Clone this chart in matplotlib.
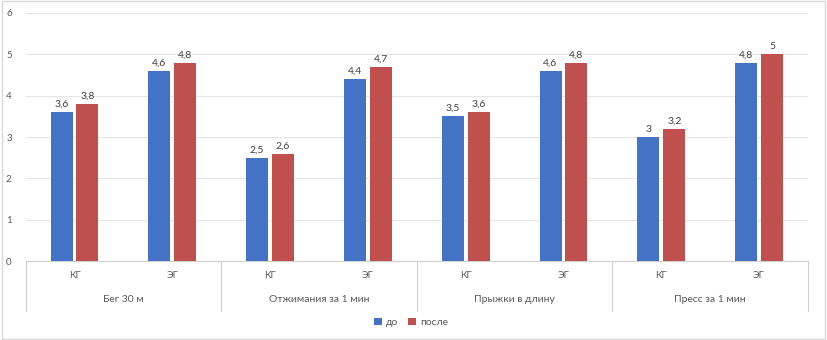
import matplotlib.pyplot as plt
import matplotlib.transforms as mtransforms
import numpy as np

plt.rcParams['font.family'] = ['Lato', 'DejaVu Sans']

tests = ['Бег 30 м', 'Отжимания за 1 мин', 'Прыжки в длину', 'Пресс за 1 мин']
groups = ['КГ', 'ЭГ']
before = [3.6, 4.6, 2.5, 4.4, 3.5, 4.6, 3.0, 4.8]
after = [3.8, 4.8, 2.6, 4.7, 3.6, 4.8, 3.2, 5.0]
series_names = ['до', 'после']

blue = '#4472C4'
red = '#C0504D'
txt = '#595959'

fig = plt.figure(figsize=(8.27, 3.4), dpi=100)
ax = fig.add_axes([0.031, 0.232, 0.946, 0.730])

x = np.arange(len(before))
w = 0.225
gap = 0.02
b1 = ax.bar(x - w / 2 - gap, before, w, color=blue, label=series_names[0], zorder=3)
b2 = ax.bar(x + w / 2 + gap, after, w, color=red, label=series_names[1], zorder=3)

def fmt(v):
    return ('%g' % v).replace('.', ',')

for bars, vals in ((b1, before), (b2, after)):
    for r, v in zip(bars, vals):
        ax.text(r.get_x() + r.get_width() / 2, v + 0.08, fmt(v),
                ha='center', va='bottom', fontsize=7.5, color='#404040')

ax.set_xlim(-0.5, len(before) - 0.5)
ax.set_ylim(0, 6)
ax.set_yticks(range(7))
ax.yaxis.grid(True, color='#E6E6E6', linewidth=0.8, zorder=0)
for s in ('top', 'right', 'left'):
    ax.spines[s].set_visible(False)
ax.spines['bottom'].set_color('#D0D0D0')
ax.tick_params(axis='y', length=0, labelsize=7, labelcolor=txt, pad=10)
ax.set_xticks(x)
ax.set_xticklabels(groups * len(tests))
ax.tick_params(axis='x', length=0, labelsize=7, labelcolor=txt, pad=7)

# second level of category axis
trans = mtransforms.blended_transform_factory(ax.transData, ax.transAxes)
for i in range(len(tests) + 1):
    ax.plot([i * 2 - 0.5, i * 2 - 0.5], [0, -0.2], transform=trans,
            color='#D0D0D0', linewidth=0.8, clip_on=False)
for i, t in enumerate(tests):
    ax.text(i * 2 + 0.5, -0.153, t, transform=trans, ha='center', va='center',
            fontsize=7.5, color=txt)

fig.legend(loc='center', bbox_to_anchor=(0.497, 0.052), ncol=2, frameon=False,
           fontsize=7.5, labelcolor=txt, handlelength=0.7, handleheight=0.7,
           handletextpad=0.4, columnspacing=1.0)

fig.add_artist(plt.Rectangle((0.002, 0.004), 0.996, 0.992, transform=fig.transFigure,
                             fill=False, edgecolor='#D9D9D9', linewidth=1))

fig.savefig('out.png', dpi=100)
